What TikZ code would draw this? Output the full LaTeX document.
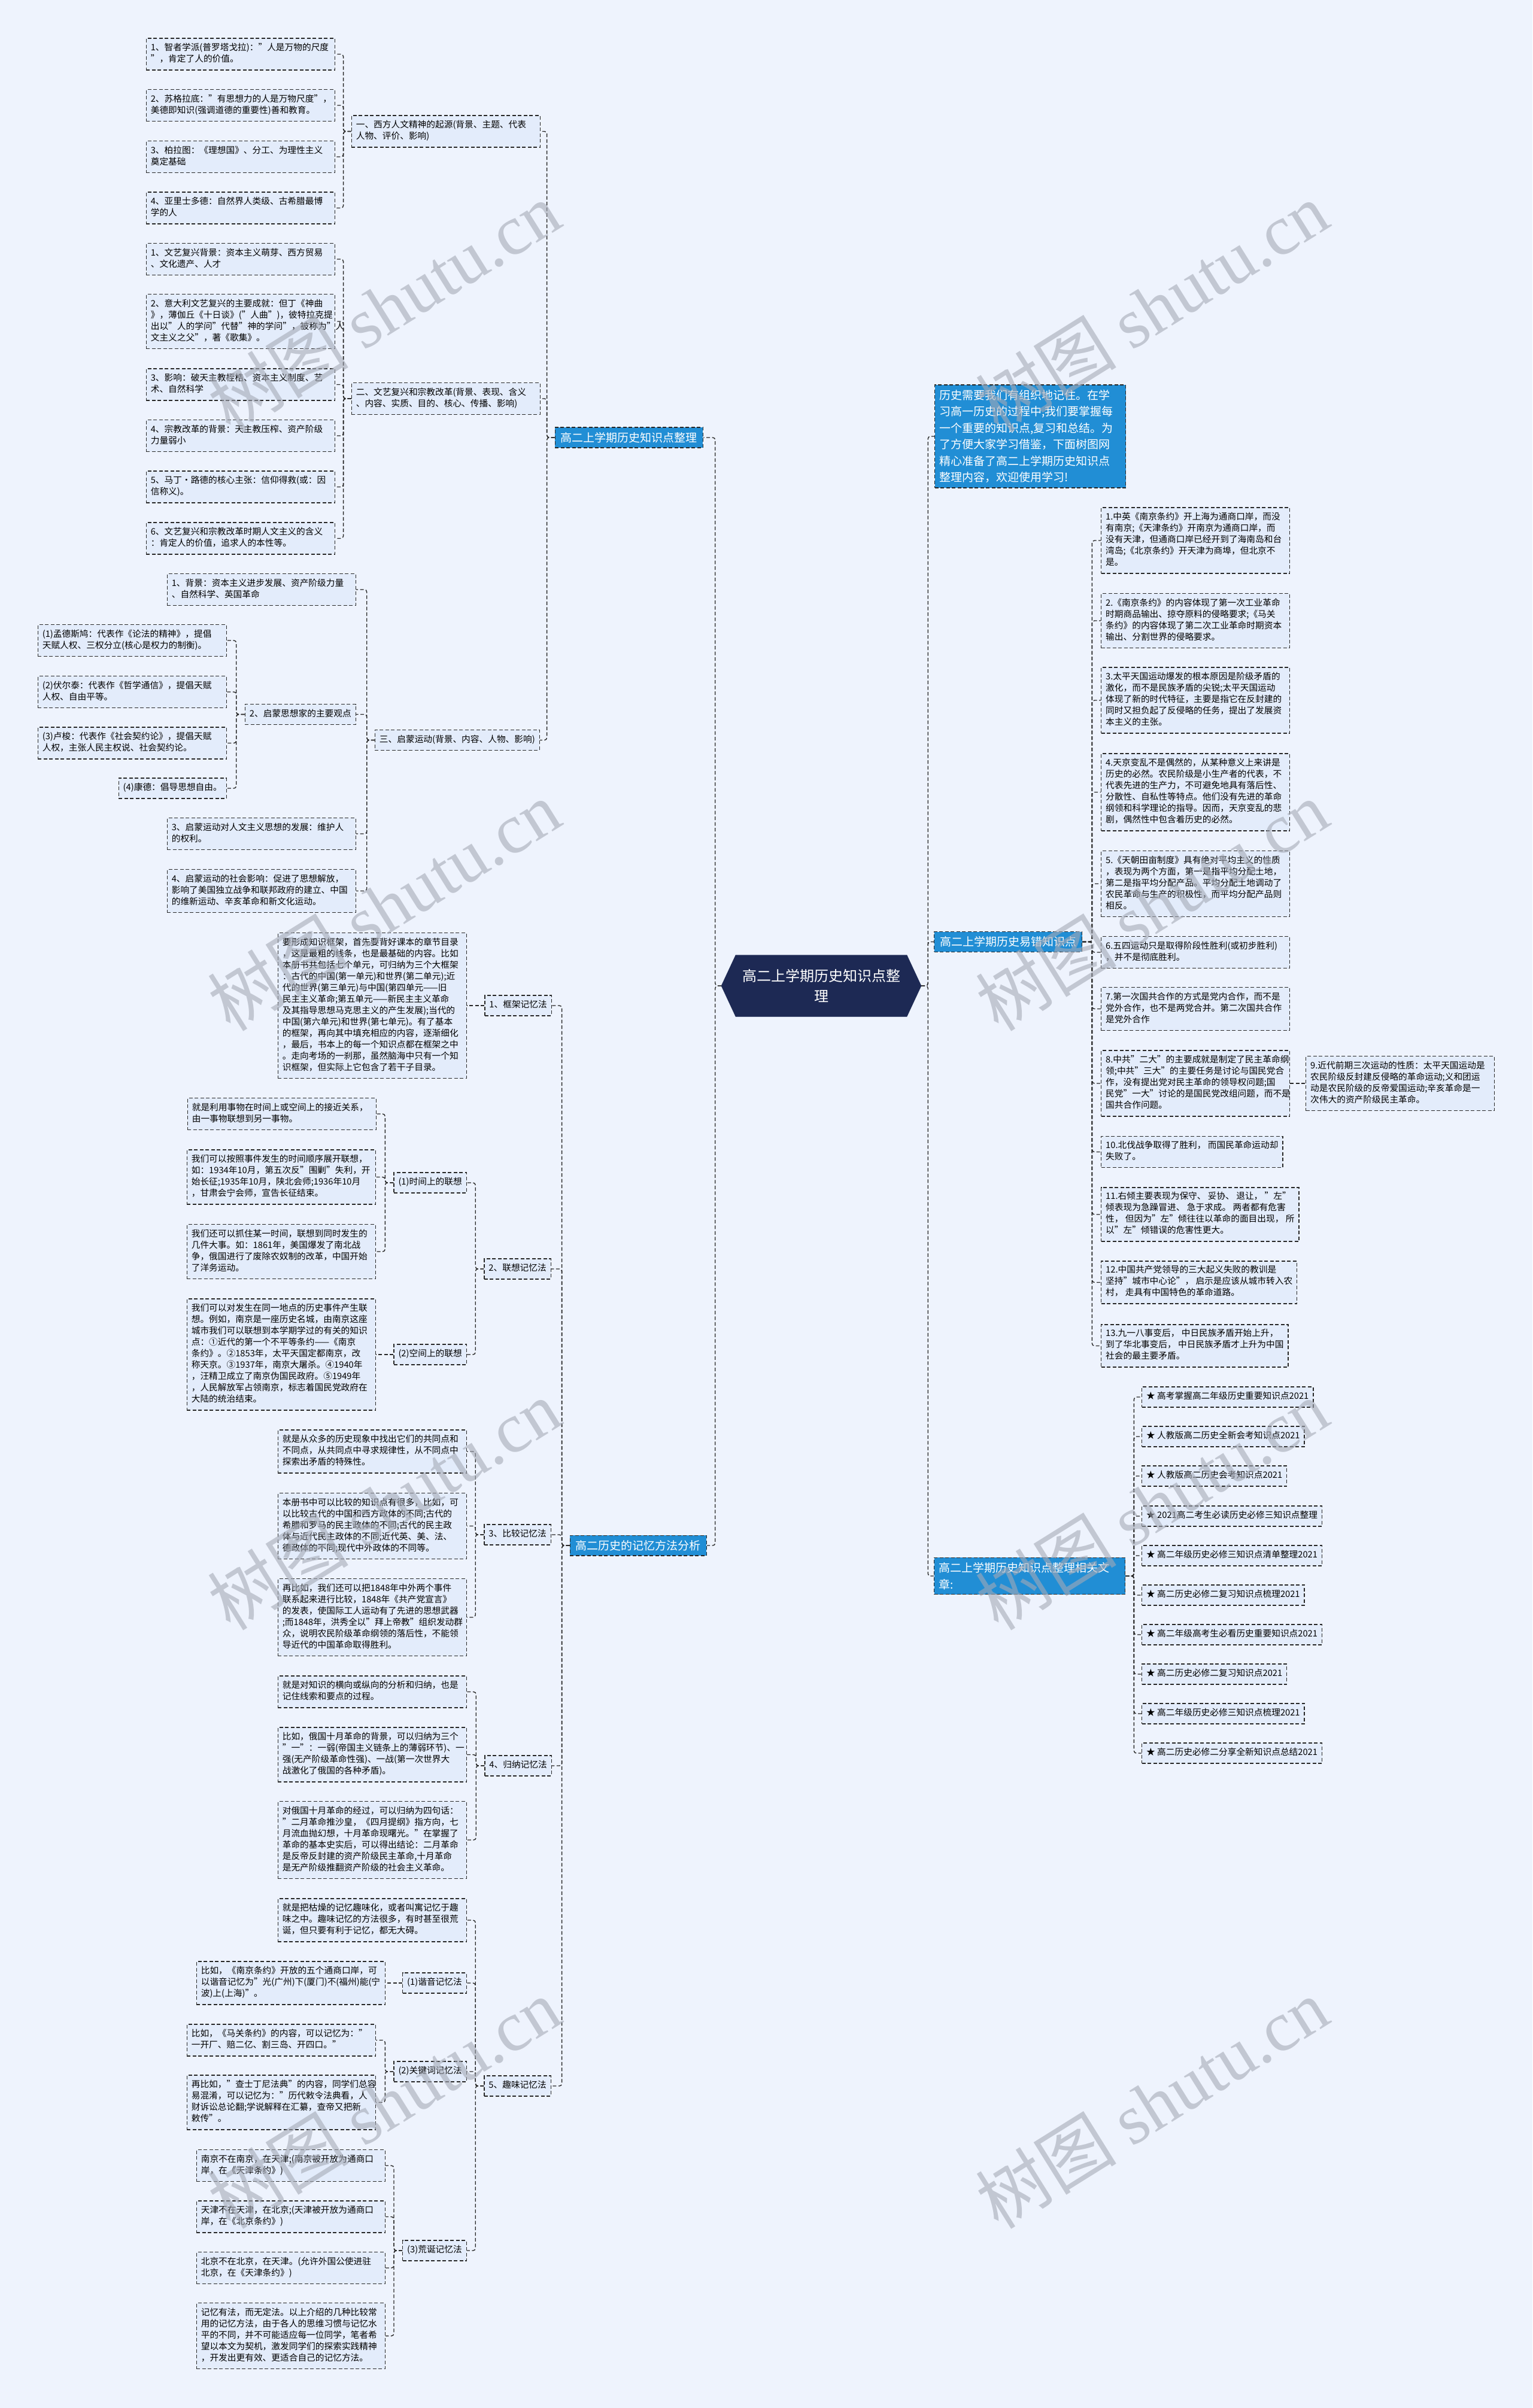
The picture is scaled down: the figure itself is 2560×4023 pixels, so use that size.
\documentclass[tikz,border=0pt]{standalone}
\usepackage{fontspec}
\setmainfont{Noto Sans CJK SC}
\newfontfamily\wmfont{Liberation Serif}
\usetikzlibrary{shapes.symbols}
\definecolor{pagebg}{RGB}{238,243,253}
\definecolor{leafbg}{RGB}{227,236,251}
\definecolor{topicbg}{RGB}{33,142,213}
\definecolor{hubbg}{RGB}{29,41,84}
\definecolor{lineink}{RGB}{40,40,40}
\definecolor{wmgray}{RGB}{165,170,182}
\begin{document}
\begin{tikzpicture}[x=1pt,y=-1pt,
  every node/.style={font=\fontsize{14.7}{19}\selectfont},
  leaf/.style={draw=lineink,fill=leafbg,line width=1.4pt,dash pattern=on 6pt off 3.5pt,inner xsep=7.5pt,inner ysep=7.5pt,align=left,execute at begin node=\strut,execute at end node=\strut},
  widebox/.style={text width=300pt},
  topic/.style={draw=lineink,fill=topicbg,text=white,line width=1.4pt,dash pattern=on 6pt off 3.5pt,inner xsep=9.5pt,inner ysep=8pt,align=left,font=\fontsize{19}{27.5}\selectfont},
  hub/.style={shape=signal,signal to=west and east,signal pointer angle=130,fill=hubbg,draw=hubbg,text=white,align=center,font=\fontsize{24}{34}\selectfont,minimum width=334pt,minimum height=103pt},
  branch/.style={draw=lineink,line width=1.4pt,dash pattern=on 6pt off 3.5pt,rounded corners=4pt},
  wmark/.style={text=wmgray,opacity=0.6,rotate=32,font=\fontsize{118}{118}\selectfont}]
\useasboundingbox (0,0) rectangle (2560,4023);
\fill[pagebg] (0,0) rectangle (2560,4023);
\node[hub] (hub) at (1372,1647) {高二上学期历史知识点整\\理};
\node[topic,anchor=east] (top1) at (1175,731) {高二上学期历史知识点整理};
\node[leaf,widebox,anchor=east] (sec1) at (903,219.5) {一、西方人文精神的起源(背景、主题、代表\\人物、评价、影响)};
\node[leaf,widebox,anchor=east] (s1a) at (560,90.5) {1、智者学派(普罗塔戈拉)："人是万物的尺度\\"，肯定了人的价值。};
\node[leaf,widebox,anchor=east] (s1b) at (560,176) {2、苏格拉底："有思想力的人是万物尺度"，\\美德即知识(强调道德的重要性)善和教育。};
\node[leaf,widebox,anchor=east] (s1c) at (560,262) {3、柏拉图：《理想国》、分工、为理性主义\\奠定基础};
\node[leaf,widebox,anchor=east] (s1d) at (560,347.5) {4、亚里士多德：自然界人类级、古希腊最博\\学的人};
\node[leaf,widebox,anchor=east] (sec2) at (903,666) {二、文艺复兴和宗教改革(背景、表现、含义\\、内容、实质、目的、核心、传播、影响)};
\node[leaf,widebox,anchor=east] (s2a) at (560,433) {1、文艺复兴背景：资本主义萌芽、西方贸易\\、文化遗产、人才};
\node[leaf,widebox,anchor=east] (s2b) at (560,537) {2、意大利文艺复兴的主要成就：但丁《神曲\\》，薄伽丘《十日谈》("人曲")，彼特拉克提\\出以"人的学问"代替"神的学问"，被称为"人\\文主义之父"，著《歌集》。};
\node[leaf,widebox,anchor=east] (s2c) at (560,642.5) {3、影响：破天主教桎梏、资本主义制度、艺\\术、自然科学};
\node[leaf,widebox,anchor=east] (s2d) at (560,728) {4、宗教改革的背景：天主教压榨、资产阶级\\力量弱小};
\node[leaf,widebox,anchor=east] (s2e) at (560,813.5) {5、马丁·路德的核心主张：信仰得救(或：因\\信称义)。};
\node[leaf,widebox,anchor=east] (s2f) at (560,899.5) {6、文艺复兴和宗教改革时期人文主义的含义\\：肯定人的价值，追求人的本性等。};
\node[leaf,anchor=east] (sec3) at (902,1236.5) {三、启蒙运动(背景、内容、人物、影响)};
\node[leaf,widebox,anchor=east] (s3a) at (595,985) {1、背景：资本主义进步发展、资产阶级力量\\、自然科学、英国革命};
\node[leaf,anchor=east] (s3b) at (595,1193.5) {2、启蒙思想家的主要观点};
\node[leaf,widebox,anchor=east] (s3b1) at (379,1070) {(1)孟德斯鸠：代表作《论法的精神》，提倡\\天赋人权、三权分立(核心是权力的制衡)。};
\node[leaf,widebox,anchor=east] (s3b2) at (379,1156) {(2)伏尔泰：代表作《哲学通信》，提倡天赋\\人权、自由平等。};
\node[leaf,widebox,anchor=east] (s3b3) at (379,1241.5) {(3)卢梭：代表作《社会契约论》，提倡天赋\\人权，主张人民主权说、社会契约论。};
\node[leaf,anchor=east] (s3b4) at (379,1317) {(4)康德：倡导思想自由。};
\node[leaf,widebox,anchor=east] (s3c) at (595,1393) {3、启蒙运动对人文主义思想的发展：维护人\\的权利。};
\node[leaf,widebox,anchor=east] (s3d) at (595,1488.5) {4、启蒙运动的社会影响：促进了思想解放，\\影响了美国独立战争和联邦政府的建立、中国\\的维新运动、辛亥革命和新文化运动。};
\node[topic,anchor=east] (top2) at (1181,2582) {高二历史的记忆方法分析};
\node[leaf,anchor=east] (m1) at (922,1680) {1、框架记忆法};
\node[leaf,widebox,anchor=east] (m1a) at (780,1680) {要形成知识框架，首先要背好课本的章节目录\\，这是最粗的线条，也是最基础的内容。比如\\本册书共包括七个单元，可归纳为三个大框架\\：古代的中国(第一单元)和世界(第二单元);近\\代的世界(第三单元)与中国(第四单元——旧\\民主主义革命;第五单元——新民主主义革命\\及其指导思想马克思主义的产生发展);当代的\\中国(第六单元)和世界(第七单元)。有了基本\\的框架，再向其中填充相应的内容，逐渐细化\\，最后，书本上的每一个知识点都在框架之中\\。走向考场的一刹那，虽然脑海中只有一个知\\识框架，但实际上它包含了若干子目录。};
\node[leaf,anchor=east] (m2) at (921,2120) {2、联想记忆法};
\node[leaf,anchor=east] (m2t) at (780,1976) {(1)时间上的联想};
\node[leaf,widebox,anchor=east] (m2t1) at (629,1861) {就是利用事物在时间上或空间上的接近关系，\\由一事物联想到另一事物。};
\node[leaf,widebox,anchor=east] (m2t2) at (628,1966.5) {我们可以按照事件发生的时间顺序展开联想，\\如：1934年10月，第五次反"围剿"失利，开\\始长征;1935年10月，陕北会师;1936年10月\\，甘肃会宁会师，宣告长征结束。};
\node[leaf,widebox,anchor=east] (m2t3) at (628,2091) {我们还可以抓住某一时间，联想到同时发生的\\几件大事。如：1861年，美国爆发了南北战\\争，俄国进行了废除农奴制的改革，中国开始\\了洋务运动。};
\node[leaf,anchor=east] (m2s) at (780,2263) {(2)空间上的联想};
\node[leaf,widebox,anchor=east] (m2s1) at (628,2263) {我们可以对发生在同一地点的历史事件产生联\\想。例如，南京是一座历史名城，由南京这座\\城市我们可以联想到本学期学过的有关的知识\\点：①近代的第一个不平等条约——《南京\\条约》。②1853年，太平天国定都南京，改\\称天京。③1937年，南京大屠杀。④1940年\\，汪精卫成立了南京伪国民政府。⑤1949年\\，人民解放军占领南京，标志着国民党政府在\\大陆的统治结束。};
\node[leaf,anchor=east] (m3) at (921,2564) {3、比较记忆法};
\node[leaf,widebox,anchor=east] (m3a) at (780,2425) {就是从众多的历史现象中找出它们的共同点和\\不同点，从共同点中寻求规律性，从不同点中\\探索出矛盾的特殊性。};
\node[leaf,widebox,anchor=east] (m3b) at (780,2549.5) {本册书中可以比较的知识点有很多，比如，可\\以比较古代的中国和西方政体的不同;古代的\\希腊和罗马的民主政体的不同;古代的民主政\\体与近代民主政体的不同;近代英、美、法、\\德政体的不同;现代中外政体的不同等。};
\node[leaf,widebox,anchor=east] (m3c) at (780,2702) {再比如，我们还可以把1848年中外两个事件\\联系起来进行比较，1848年《共产党宣言》\\的发表，使国际工人运动有了先进的思想武器\\;而1848年，洪秀全以"拜上帝教"组织发动群\\众，说明农民阶级革命纲领的落后性，不能领\\导近代的中国革命取得胜利。};
\node[leaf,anchor=east] (m4) at (922,2950) {4、归纳记忆法};
\node[leaf,widebox,anchor=east] (m4a) at (780,2826.5) {就是对知识的横向或纵向的分析和归纳，也是\\记住线索和要点的过程。};
\node[leaf,widebox,anchor=east] (m4b) at (780,2931.5) {比如，俄国十月革命的背景，可以归纳为三个\\"一"：一弱(帝国主义链条上的薄弱环节)、一\\强(无产阶级革命性强)、一战(第一次世界大\\战激化了俄国的各种矛盾)。};
\node[leaf,widebox,anchor=east] (m4c) at (780,3074) {对俄国十月革命的经过，可以归纳为四句话：\\"二月革命推沙皇，《四月提纲》指方向，七\\月流血抛幻想，十月革命现曙光。"在掌握了\\革命的基本史实后，可以得出结论：二月革命\\是反帝反封建的资产阶级民主革命,十月革命\\是无产阶级推翻资产阶级的社会主义革命。};
\node[leaf,anchor=east] (m5) at (921,3485) {5、趣味记忆法};
\node[leaf,widebox,anchor=east] (m5a) at (780,3208) {就是把枯燥的记忆趣味化，或者叫寓记忆于趣\\味之中。趣味记忆的方法很多，有时甚至很荒\\诞，但只要有利于记忆，都无大碍。};
\node[leaf,anchor=east] (m5h) at (780,3313) {(1)谐音记忆法};
\node[leaf,widebox,anchor=east] (m5h1) at (644,3313) {比如，《南京条约》开放的五个通商口岸，可\\以谐音记忆为"光(广州)下(厦门)不(福州)能(宁\\波)上(上海)"。};
\node[leaf,anchor=east] (m5k) at (780,3461) {(2)关键词记忆法};
\node[leaf,widebox,anchor=east] (m5k1) at (628,3408.5) {比如，《马关条约》的内容，可以记忆为："\\一开厂、赔二亿、割三岛、开四口。"};
\node[leaf,widebox,anchor=east] (m5k2) at (628,3512.5) {再比如，"查士丁尼法典"的内容，同学们总容\\易混淆，可以记忆为："历代敕令法典看，人\\财诉讼总论翻;学说解释在汇纂，查帝又把新\\敕传"。};
\node[leaf,anchor=east] (m5w) at (780,3760) {(3)荒诞记忆法};
\node[leaf,widebox,anchor=east] (m5w1) at (644,3618) {南京不在南京，在天津;(南京被开放为通商口\\岸，在《天津条约》)};
\node[leaf,widebox,anchor=east] (m5w2) at (644,3703.5) {天津不在天津，在北京;(天津被开放为通商口\\岸，在《北京条约》)};
\node[leaf,widebox,anchor=east] (m5w3) at (644,3789) {北京不在北京，在天津。(允许外国公使进驻\\北京，在《天津条约》)};
\node[leaf,widebox,anchor=east] (m5w4) at (644,3902.5) {记忆有法，而无定法。以上介绍的几种比较常\\用的记忆方法，由于各人的思维习惯与记忆水\\平的不同，并不可能适应每一位同学，笔者希\\望以本文为契机，激发同学们的探索实践精神\\，开发出更有效、更适合自己的记忆方法。};
\node[topic,text width=304pt,inner xsep=7.5pt,anchor=west] (intro) at (1561,729) {历史需要我们有组织地记住。在学\\习高一历史的过程中,我们要掌握每\\一个重要的知识点,复习和总结。为\\了方便大家学习借鉴，下面树图网\\精心准备了高二上学期历史知识点\\整理内容，欢迎使用学习!};
\node[topic,anchor=west] (top3) at (1560,1573.5) {高二上学期历史易错知识点};
\node[leaf,widebox,anchor=west] (e1) at (1839,903) {1.中英《南京条约》开上海为通商口岸，而没\\有南京;《天津条约》开南京为通商口岸，而\\没有天津，但通商口岸已经开到了海南岛和台\\湾岛;《北京条约》开天津为商埠，但北京不\\是。};
\node[leaf,widebox,anchor=west] (e2) at (1839,1037) {2.《南京条约》的内容体现了第一次工业革命\\时期商品输出、掠夺原料的侵略要求;《马关\\条约》的内容体现了第二次工业革命时期资本\\输出、分割世界的侵略要求。};
\node[leaf,widebox,anchor=west] (e3) at (1839,1170) {3.太平天国运动爆发的根本原因是阶级矛盾的\\激化，而不是民族矛盾的尖锐;太平天国运动\\体现了新的时代特征，主要是指它在反封建的\\同时又担负起了反侵略的任务，提出了发展资\\本主义的主张。};
\node[leaf,widebox,anchor=west] (e4) at (1839,1323.5) {4.天京变乱不是偶然的，从某种意义上来讲是\\历史的必然。农民阶级是小生产者的代表，不\\代表先进的生产力，不可避免地具有落后性、\\分散性、自私性等特点。他们没有先进的革命\\纲领和科学理论的指导。因而，天京变乱的悲\\剧，偶然性中包含着历史的必然。};
\node[leaf,widebox,anchor=west] (e5) at (1839,1476.5) {5.《天朝田亩制度》具有绝对平均主义的性质\\，表现为两个方面，第一是指平均分配土地，\\第二是指平均分配产品。平均分配土地调动了\\农民革命与生产的积极性，而平均分配产品则\\相反。};
\node[leaf,widebox,anchor=west] (e6) at (1839,1591) {6.五四运动只是取得阶段性胜利(或初步胜利)\\，并不是彻底胜利。};
\node[leaf,widebox,anchor=west] (e7) at (1839,1685.5) {7.第一次国共合作的方式是党内合作，而不是\\党外合作，也不是两党合并。第二次国共合作\\是党外合作};
\node[leaf,widebox,anchor=west] (e8) at (1839,1810) {8.中共"二大"的主要成就是制定了民主革命纲\\领;中共"三大"的主要任务是讨论与国民党合\\作，没有提出党对民主革命的领导权问题;国\\民党"一大"讨论的是国民党改组问题，而不是\\国共合作问题。};
\node[leaf,widebox,anchor=west] (e9) at (2181,1810) {9.近代前期三次运动的性质：太平天国运动是\\农民阶级反封建反侵略的革命运动;义和团运\\动是农民阶级的反帝爱国运动;辛亥革命是一\\次伟大的资产阶级民主革命。};
\node[leaf,anchor=west] (e10) at (1839,1924.5) {10.北伐战争取得了胜利， 而国民革命运动却\\失败了。};
\node[leaf,anchor=west] (e11) at (1839,2029) {11.右倾主要表现为保守、 妥协、 退让， "左"\\倾表现为急躁冒进、 急于求成。 两者都有危害\\性， 但因为"左"倾往往以革命的面目出现， 所\\以"左"倾错误的危害性更大。};
\node[leaf,anchor=west] (e12) at (1839,2142.5) {12.中国共产党领导的三大起义失败的教训是\\坚持"城市中心论"， 启示是应该从城市转入农\\村， 走具有中国特色的革命道路。};
\node[leaf,anchor=west] (e13) at (1839,2248.5) {13.九一八事变后， 中日民族矛盾开始上升，\\到了华北事变后， 中日民族矛盾才上升为中国\\社会的最主要矛盾。};
\node[topic,text width=304pt,inner xsep=7.5pt,anchor=west] (top4) at (1560,2633) {高二上学期历史知识点整理相关文\\章:};
\node[leaf,anchor=west] (r1) at (1907,2334) {★ 高考掌握高二年级历史重要知识点2021};
\node[leaf,anchor=west] (r2) at (1907,2400) {★ 人教版高二历史全新会考知识点2021};
\node[leaf,anchor=west] (r3) at (1907,2466) {★ 人教版高二历史会考知识点2021};
\node[leaf,anchor=west] (r4) at (1907,2533) {★ 2021高二考生必读历史必修三知识点整理};
\node[leaf,anchor=west] (r5) at (1907,2599) {★ 高二年级历史必修三知识点清单整理2021};
\node[leaf,anchor=west] (r6) at (1907,2665) {★ 高二历史必修二复习知识点梳理2021};
\node[leaf,anchor=west] (r7) at (1907,2731) {★ 高二年级高考生必看历史重要知识点2021};
\node[leaf,anchor=west] (r8) at (1907,2797) {★ 高二历史必修二复习知识点2021};
\node[leaf,anchor=west] (r9) at (1907,2863) {★ 高二年级历史必修三知识点梳理2021};
\node[leaf,anchor=west] (r10) at (1907,2929) {★ 高二历史必修二分享全新知识点总结2021};
\draw[branch] (hub.west) -- ++(-10,0) |- (top1.east);
\draw[branch] (hub.west) -- ++(-10,0) |- (top2.east);
\draw[branch] (top1.west) -- ++(-13,0) |- (sec1.east);
\draw[branch] (top1.west) -- ++(-13,0) |- (sec2.east);
\draw[branch] (top1.west) -- ++(-13,0) |- (sec3.east);
\draw[branch] (sec1.west) -- ++(-13,0) |- (s1a.east);
\draw[branch] (sec1.west) -- ++(-13,0) |- (s1b.east);
\draw[branch] (sec1.west) -- ++(-13,0) |- (s1c.east);
\draw[branch] (sec1.west) -- ++(-13,0) |- (s1d.east);
\draw[branch] (sec2.west) -- ++(-13,0) |- (s2a.east);
\draw[branch] (sec2.west) -- ++(-13,0) |- (s2b.east);
\draw[branch] (sec2.west) -- ++(-13,0) |- (s2c.east);
\draw[branch] (sec2.west) -- ++(-13,0) |- (s2d.east);
\draw[branch] (sec2.west) -- ++(-13,0) |- (s2e.east);
\draw[branch] (sec2.west) -- ++(-13,0) |- (s2f.east);
\draw[branch] (sec3.west) -- ++(-13,0) |- (s3a.east);
\draw[branch] (sec3.west) -- ++(-13,0) |- (s3b.east);
\draw[branch] (sec3.west) -- ++(-13,0) |- (s3c.east);
\draw[branch] (sec3.west) -- ++(-13,0) |- (s3d.east);
\draw[branch] (s3b.west) -- ++(-14,0) |- (s3b1.east);
\draw[branch] (s3b.west) -- ++(-14,0) |- (s3b2.east);
\draw[branch] (s3b.west) -- ++(-14,0) |- (s3b3.east);
\draw[branch] (s3b.west) -- ++(-14,0) |- (s3b4.east);
\draw[branch] (top2.west) -- ++(-13,0) |- (m1.east);
\draw[branch] (top2.west) -- ++(-13,0) |- (m2.east);
\draw[branch] (top2.west) -- ++(-13,0) |- (m3.east);
\draw[branch] (top2.west) -- ++(-13,0) |- (m4.east);
\draw[branch] (top2.west) -- ++(-13,0) |- (m5.east);
\draw[branch] (m1.west) -- (m1a.east);
\draw[branch] (m2.west) -- ++(-14,0) |- (m2t.east);
\draw[branch] (m2.west) -- ++(-14,0) |- (m2s.east);
\draw[branch] (m2t.west) -- ++(-14,0) |- (m2t1.east);
\draw[branch] (m2t.west) -- ++(-14,0) |- (m2t2.east);
\draw[branch] (m2t.west) -- ++(-14,0) |- (m2t3.east);
\draw[branch] (m2s.west) -- (m2s1.east);
\draw[branch] (m3.west) -- ++(-14,0) |- (m3a.east);
\draw[branch] (m3.west) -- ++(-14,0) |- (m3b.east);
\draw[branch] (m3.west) -- ++(-14,0) |- (m3c.east);
\draw[branch] (m4.west) -- ++(-14,0) |- (m4a.east);
\draw[branch] (m4.west) -- ++(-14,0) |- (m4b.east);
\draw[branch] (m4.west) -- ++(-14,0) |- (m4c.east);
\draw[branch] (m5.west) -- ++(-14,0) |- (m5a.east);
\draw[branch] (m5.west) -- ++(-14,0) |- (m5h.east);
\draw[branch] (m5.west) -- ++(-14,0) |- (m5k.east);
\draw[branch] (m5.west) -- ++(-14,0) |- (m5w.east);
\draw[branch] (m5h.west) -- (m5h1.east);
\draw[branch] (m5k.west) -- ++(-14,0) |- (m5k1.east);
\draw[branch] (m5k.west) -- ++(-14,0) |- (m5k2.east);
\draw[branch] (m5w.west) -- ++(-14,0) |- (m5w1.east);
\draw[branch] (m5w.west) -- ++(-14,0) |- (m5w2.east);
\draw[branch] (m5w.west) -- ++(-14,0) |- (m5w3.east);
\draw[branch] (m5w.west) -- ++(-14,0) |- (m5w4.east);
\draw[branch] (hub.east) -- ++(11,0) |- (intro.west);
\draw[branch] (hub.east) -- ++(11,0) |- (top3.west);
\draw[branch] (hub.east) -- ++(11,0) |- (top4.west);
\draw[branch] (top3.east) -- ++(16,0) |- (e1.west);
\draw[branch] (top3.east) -- ++(16,0) |- (e2.west);
\draw[branch] (top3.east) -- ++(16,0) |- (e3.west);
\draw[branch] (top3.east) -- ++(16,0) |- (e4.west);
\draw[branch] (top3.east) -- ++(16,0) |- (e5.west);
\draw[branch] (top3.east) -- ++(16,0) |- (e6.west);
\draw[branch] (top3.east) -- ++(16,0) |- (e7.west);
\draw[branch] (top3.east) -- ++(16,0) |- (e8.west);
\draw[branch] (top3.east) -- ++(16,0) |- (e10.west);
\draw[branch] (top3.east) -- ++(16,0) |- (e11.west);
\draw[branch] (top3.east) -- ++(16,0) |- (e12.west);
\draw[branch] (top3.east) -- ++(16,0) |- (e13.west);
\draw[branch] (e8.east) -- (e9.west);
\draw[branch] (top4.east) -- ++(14,0) |- (r1.west);
\draw[branch] (top4.east) -- ++(14,0) |- (r2.west);
\draw[branch] (top4.east) -- ++(14,0) |- (r3.west);
\draw[branch] (top4.east) -- ++(14,0) |- (r4.west);
\draw[branch] (top4.east) -- ++(14,0) |- (r5.west);
\draw[branch] (top4.east) -- ++(14,0) |- (r6.west);
\draw[branch] (top4.east) -- ++(14,0) |- (r7.west);
\draw[branch] (top4.east) -- ++(14,0) |- (r8.west);
\draw[branch] (top4.east) -- ++(14,0) |- (r9.west);
\draw[branch] (top4.east) -- ++(14,0) |- (r10.west);
\node[wmark] (wm1) at (641,513) {树图 {\wmfont shutu.cn}};
\node[wmark] (wm2) at (1924,513) {树图 {\wmfont shutu.cn}};
\node[wmark] (wm3) at (641,1513) {树图 {\wmfont shutu.cn}};
\node[wmark] (wm4) at (1924,1513) {树图 {\wmfont shutu.cn}};
\node[wmark] (wm5) at (641,2514) {树图 {\wmfont shutu.cn}};
\node[wmark] (wm6) at (1924,2514) {树图 {\wmfont shutu.cn}};
\node[wmark] (wm7) at (641,3514) {树图 {\wmfont shutu.cn}};
\node[wmark] (wm8) at (1924,3514) {树图 {\wmfont shutu.cn}};
\end{tikzpicture}
\end{document}
